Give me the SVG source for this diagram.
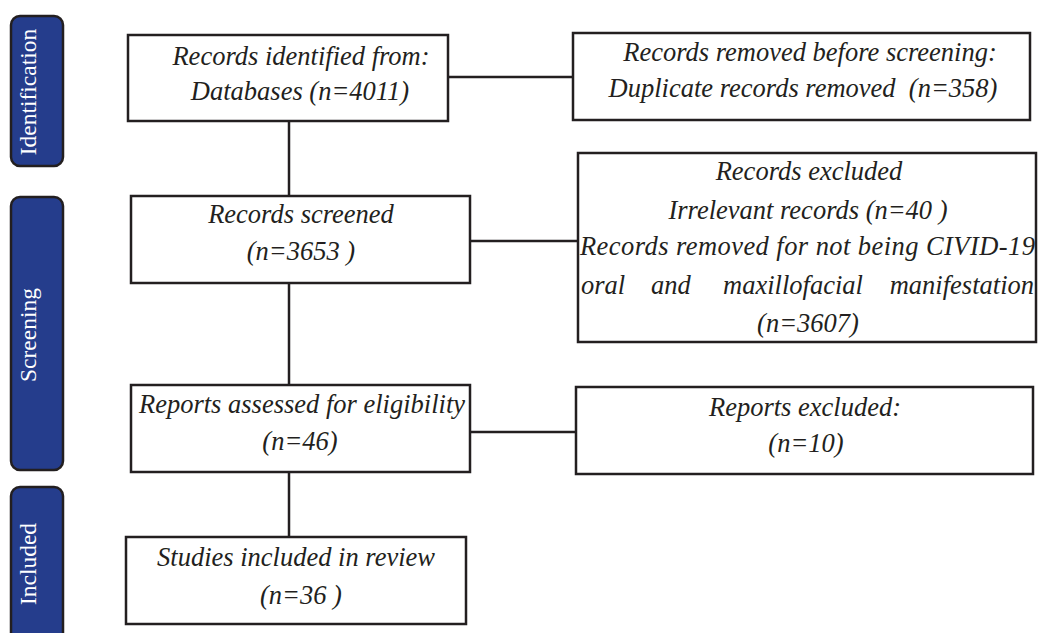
<svg xmlns="http://www.w3.org/2000/svg" width="1040" height="633" viewBox="0 0 1040 633">
<style>
.bar{fill:#253d8c;stroke:#231f20;stroke-width:2.5}
.box{fill:#fff;stroke:#231f20;stroke-width:2.5}
.t{font-family:"Liberation Serif","Times New Roman",serif;font-style:italic;font-size:26.5px;fill:#231f20;text-anchor:middle}
.s{font-family:"Liberation Serif","Times New Roman",serif;font-size:23.5px;fill:#fff;text-anchor:middle}
.c{stroke:#231f20;stroke-width:2.5;fill:none}
</style>
<rect width="1040" height="633" fill="#fff"/>
<g id="phase-identification"><rect class="bar" x="11" y="16" width="52" height="150" rx="9"/><text class="s" transform="translate(36,92) rotate(-90)">Identification</text></g>
<g id="phase-screening"><rect class="bar" x="11" y="197" width="52" height="273" rx="9"/><text class="s" transform="translate(36,335) rotate(-90)">Screening</text></g>
<g id="phase-included"><rect class="bar" x="11" y="487" width="52" height="160" rx="9"/><text class="s" transform="translate(36,564) rotate(-90)">Included</text></g>
<g id="connectors">
<line class="c" x1="289" y1="121" x2="289" y2="196"/>
<line class="c" x1="289" y1="283" x2="289" y2="385"/>
<line class="c" x1="289" y1="472" x2="289" y2="537"/>
<line class="c" x1="448" y1="77" x2="573" y2="77"/>
<line class="c" x1="470" y1="241" x2="578" y2="241"/>
<line class="c" x1="467" y1="432" x2="576" y2="432"/>
</g>
<g id="identified"><rect class="box" x="128" y="35" width="320" height="86"/><text class="t" x="301" y="65">Records identified from:</text><text class="t" x="300" y="100">Databases (n=4011)</text></g>
<g id="removed"><rect class="box" x="573" y="33" width="457" height="87"/><text class="t" x="810" y="61">Records removed before screening:</text><text class="t" x="803" y="97" xml:space="preserve">Duplicate records removed  (n=358)</text></g>
<g id="screened"><rect class="box" x="131" y="196" width="339" height="87"/><text class="t" x="301" y="223">Records screened</text><text class="t" x="301" y="260">(n=3653 )</text></g>
<g id="excluded"><rect class="box" x="578" y="153" width="458" height="189"/><text class="t" x="809" y="180">Records excluded</text><text class="t" x="808" y="219">Irrelevant records (n=40 )</text><text class="t" x="580" y="255" style="text-anchor:start" textLength="455" lengthAdjust="spacing">Records removed for not being CIVID-19</text><text class="t" x="581" y="294" style="text-anchor:start">oral</text><text class="t" x="651" y="294" style="text-anchor:start">and</text><text class="t" x="793" y="294">maxillofacial</text><text class="t" x="1034" y="294" style="text-anchor:end">manifestation</text><text class="t" x="808" y="332">(n=3607)</text></g>
<g id="assessed"><rect class="box" x="131" y="385" width="339" height="87"/><text class="t" x="302" y="413">Reports assessed for eligibility</text><text class="t" x="300" y="450">(n=46)</text></g>
<g id="reports-excluded"><rect class="box" x="576" y="387" width="457" height="87"/><text class="t" x="805" y="416">Reports excluded:</text><text class="t" x="806" y="452">(n=10)</text></g>
<g id="included"><rect class="box" x="126" y="537" width="340" height="87"/><text class="t" x="296" y="566">Studies included in review</text><text class="t" x="301" y="604">(n=36 )</text></g>
</svg>
